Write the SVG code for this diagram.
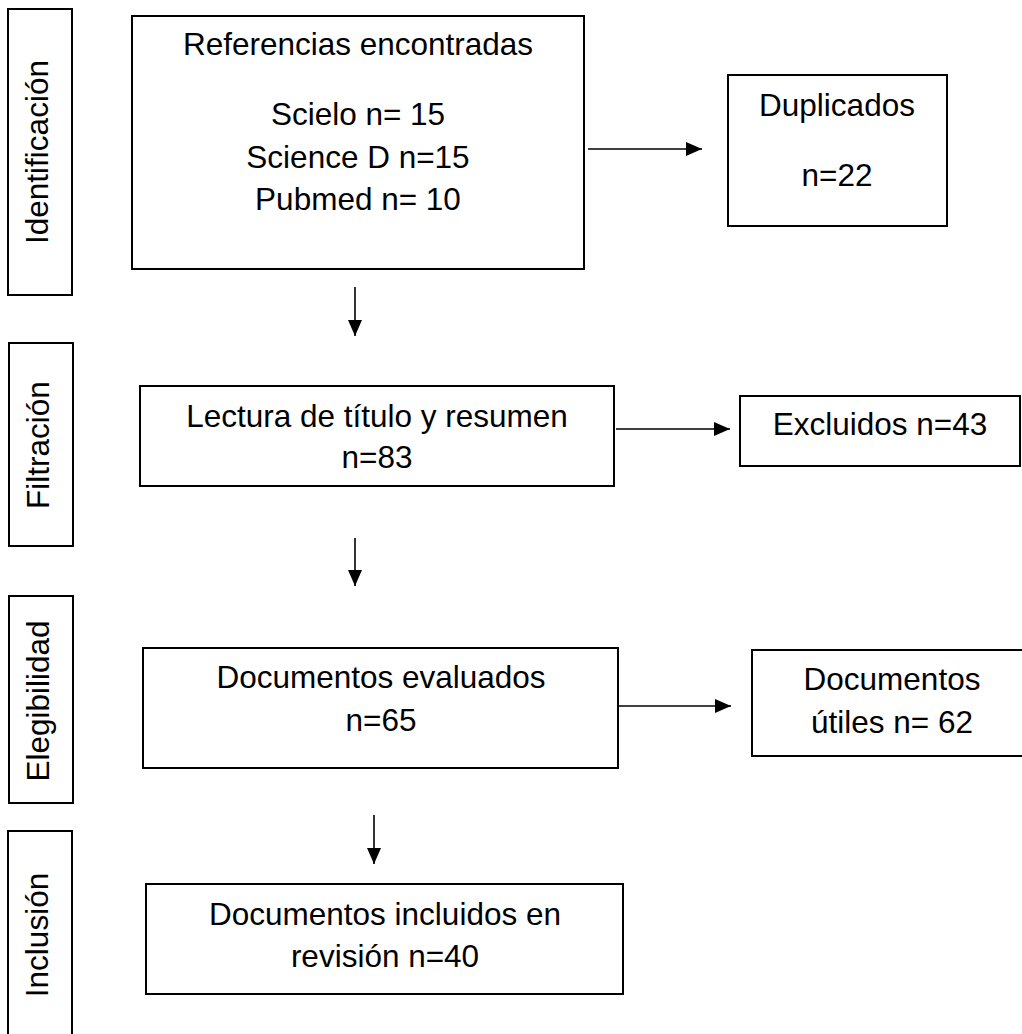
<svg xmlns="http://www.w3.org/2000/svg" width="1022" height="1034" viewBox="0 0 1022 1034">
  <style>
    .box { fill: #ffffff; stroke: #000000; stroke-width: 2; }
    .lbl { font-family: "Liberation Sans", Arial, sans-serif; font-size: 31.5px; fill: #000000; text-anchor: middle; }
    .conn { stroke: #000000; stroke-width: 1.6; fill: none; marker-end: url(#head); }
  </style>
  <defs>
    <marker id="head" markerUnits="userSpaceOnUse" markerWidth="16" markerHeight="14" refX="16" refY="7" orient="auto">
      <path d="M0,0 L16,7 L0,14 Z" fill="#000000"/>
    </marker>
  </defs>
  <rect width="1022" height="1034" fill="#ffffff"/>

  <!-- phase labels -->
  <g id="phase-identificacion">
    <rect class="box" x="8" y="9" width="64" height="286"/>
    <text class="lbl" transform="translate(48,152) rotate(-90)">Identificación</text>
  </g>
  <g id="phase-filtracion">
    <rect class="box" x="9" y="343" width="64" height="203"/>
    <text class="lbl" transform="translate(49,445) rotate(-90)">Filtración</text>
  </g>
  <g id="phase-elegibilidad">
    <rect class="box" x="9" y="596" width="64" height="207"/>
    <text class="lbl" transform="translate(49,701) rotate(-90)">Elegibilidad</text>
  </g>
  <g id="phase-inclusion">
    <rect class="box" x="8" y="831" width="64" height="220"/>
    <text class="lbl" transform="translate(48,935) rotate(-90)">Inclusión</text>
  </g>

  <!-- main flow -->
  <g id="referencias">
    <rect class="box" x="132" y="16" width="452" height="253"/>
    <text class="lbl" x="358" y="55">Referencias encontradas</text>
    <text class="lbl" x="358" y="125">Scielo n= 15</text>
    <text class="lbl" x="358" y="168">Science D n=15</text>
    <text class="lbl" x="358" y="210">Pubmed n= 10</text>
  </g>
  <g id="duplicados">
    <rect class="box" x="728" y="75" width="219" height="151"/>
    <text class="lbl" x="837" y="116">Duplicados</text>
    <text class="lbl" x="837" y="186">n=22</text>
  </g>
  <g id="lectura">
    <rect class="box" x="140" y="386" width="474" height="100"/>
    <text class="lbl" x="377" y="427">Lectura de título y resumen</text>
    <text class="lbl" x="377" y="468">n=83</text>
  </g>
  <g id="excluidos">
    <rect class="box" x="740" y="396" width="280" height="70"/>
    <text class="lbl" x="880" y="435">Excluidos n=43</text>
  </g>
  <g id="evaluados">
    <rect class="box" x="143" y="648" width="475" height="120"/>
    <text class="lbl" x="381" y="688">Documentos evaluados</text>
    <text class="lbl" x="381" y="731">n=65</text>
  </g>
  <g id="utiles">
    <rect class="box" x="752" y="650" width="290" height="106"/>
    <text class="lbl" x="892" y="690">Documentos</text>
    <text class="lbl" x="892" y="733">útiles n= 62</text>
  </g>
  <g id="incluidos">
    <rect class="box" x="146" y="884" width="477" height="110"/>
    <text class="lbl" x="385" y="925">Documentos incluidos en</text>
    <text class="lbl" x="385" y="967">revisión n=40</text>
  </g>

  <!-- connectors -->
  <g id="connectors">
    <line class="conn" x1="588" y1="149" x2="702" y2="149"/>
    <line class="conn" x1="355" y1="287" x2="355" y2="336"/>
    <line class="conn" x1="616" y1="429" x2="730" y2="429"/>
    <line class="conn" x1="355" y1="538" x2="355" y2="586"/>
    <line class="conn" x1="618" y1="706" x2="731" y2="706"/>
    <line class="conn" x1="374" y1="815" x2="374" y2="864"/>
  </g>
</svg>
